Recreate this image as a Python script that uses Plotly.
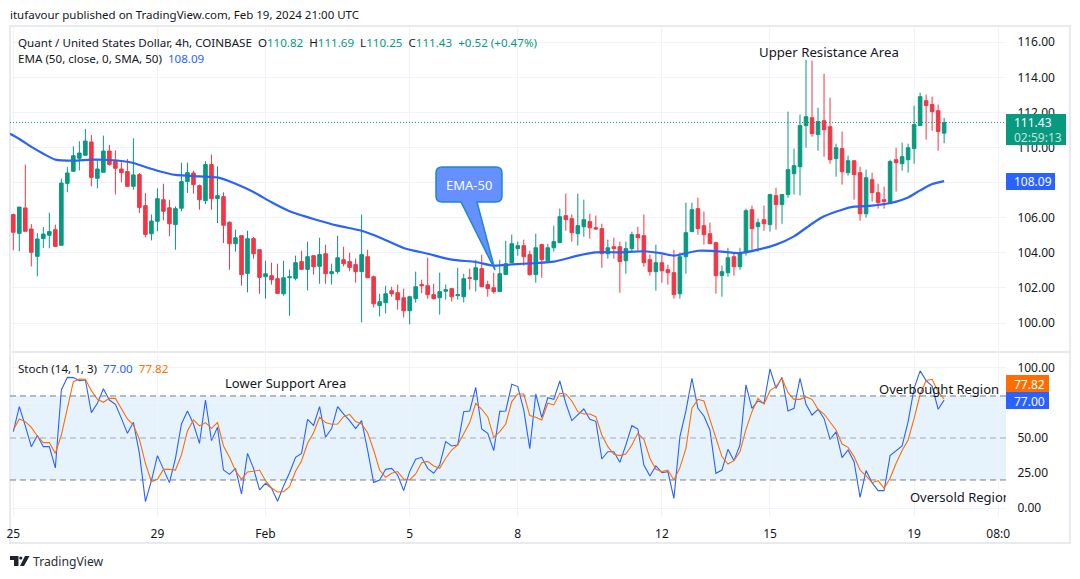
import plotly.graph_objects as go

W, H = 1080, 579
FONT = "Noto Sans"
UP, DOWN, BLUE, ORANGE = "#089981", "#F23645", "#2962FF", "#FF6D00"
TXT = "#131722"
GRID = "#F0F3FA"

opens = [106.18,105.11,106.56,105.36,103.80,104.81,105.00,105.32,104.43,107.96,108.65,109.39,109.56,110.32,108.25,108.59,109.80,109.27,108.78,108.63,
107.79,108.46,106.69,105.09,105.80,107.03,106.57,105.61,106.54,108.06,108.55,107.83,106.97,109.03,107.09,107.20,105.74,104.52,104.98,102.83,
104.81,104.18,102.64,102.70,102.53,101.67,102.58,102.55,103.50,103.06,103.84,103.23,103.95,102.81,102.93,103.61,103.50,103.33,102.93,103.78,
102.64,100.99,101.16,101.84,101.73,101.44,100.70,101.39,102.19,102.13,101.62,101.44,101.81,101.96,101.56,101.50,102.58,102.47,103.10,102.19,
102.01,101.79,102.76,103.44,104.24,104.41,103.90,102.76,104.47,103.55,104.29,104.58,106.12,105.95,105.09,105.49,105.78,105.43,105.38,103.95,
104.35,104.35,103.55,104.24,105.04,104.98,103.61,102.93,103.44,103.04,102.87,101.67,103.78,105.21,106.52,105.55,105.09,104.58,102.70,102.87,
103.78,103.21,104.01,106.46,105.49,105.89,105.61,107.26,106.75,107.32,108.51,108.91,111.25,111.70,110.74,111.53,111.19,109.37,109.94,108.57,
109.25,108.57,106.23,108.17,107.43,107.03,106.80,109.31,109.08,109.31,109.94,111.25,112.67,112.45,112.10,110.82]
highs = [106.23,106.61,109.03,105.64,105.13,105.47,106.29,105.61,108.23,108.89,110.07,110.36,111.06,110.72,109.27,110.68,110.15,109.84,109.16,109.35,
110.53,108.55,107.41,106.18,107.68,107.94,107.03,106.65,109.14,109.14,108.68,107.89,109.22,109.60,108.93,107.45,105.80,105.32,104.98,105.26,
104.90,104.18,103.55,103.44,103.38,103.55,103.04,103.84,104.12,104.64,103.84,104.86,104.47,103.38,104.98,104.35,104.01,103.67,106.18,104.18,
102.70,101.67,102.13,102.07,102.19,101.96,101.56,102.93,102.47,103.72,102.24,102.87,102.19,102.01,103.15,102.81,103.10,103.61,103.90,102.41,
102.87,103.61,104.69,105.04,104.64,104.75,104.12,105.09,104.52,104.52,105.55,106.52,107.37,106.18,107.37,107.03,106.23,106.12,105.66,104.75,
104.86,104.64,104.64,105.21,105.49,106.18,103.90,104.47,103.90,103.33,104.18,104.01,106.86,106.86,107.14,106.35,105.72,104.64,103.27,104.29,
104.01,104.29,106.52,106.69,105.95,106.69,107.37,107.71,107.32,112.05,109.94,111.88,115.01,114.95,112.27,114.21,112.84,110.22,110.91,109.54,
109.25,108.91,108.74,108.57,107.94,107.77,109.31,109.99,110.28,110.22,112.39,113.13,113.02,112.90,112.45,111.69]
lows = [104.14,104.09,105.23,103.23,102.66,104.28,104.26,104.33,104.43,107.45,108.65,108.70,109.54,107.79,107.68,108.59,108.97,107.33,108.02,107.79,
107.60,106.27,104.88,104.71,105.23,105.85,104.94,104.18,106.37,107.41,107.37,106.46,106.78,106.46,105.70,104.56,103.04,104.07,102.13,101.75,
103.67,101.67,101.39,102.19,101.67,101.56,100.42,102.43,103.04,101.86,102.76,102.24,102.24,102.19,102.81,103.23,102.95,102.30,100.04,102.58,
100.89,100.38,100.55,101.50,100.76,100.32,99.92,101.16,101.71,101.39,101.33,100.48,101.33,101.22,101.33,101.18,101.90,101.79,102.07,101.50,
101.67,101.79,102.76,103.44,103.84,103.27,102.70,102.30,102.58,103.55,104.07,104.58,105.26,104.64,104.41,104.92,104.81,105.32,103.15,103.67,
103.67,101.73,102.81,104.07,104.07,103.21,102.70,101.84,102.30,102.19,101.39,101.39,102.81,105.21,105.04,104.47,104.52,101.67,101.50,102.64,
102.70,103.04,103.84,104.18,104.07,105.26,105.21,105.32,105.66,107.14,107.32,107.26,109.99,110.62,109.82,109.48,109.08,108.34,107.89,108.40,
107.03,105.83,106.00,106.92,106.52,106.52,106.80,107.49,108.68,108.57,109.08,111.25,110.45,110.96,109.82,110.25]
closes = [105.17,106.61,105.23,104.03,104.79,105.07,105.21,104.37,107.98,108.55,109.54,109.69,110.37,108.30,108.78,109.80,109.04,108.82,108.57,107.79,
108.44,106.59,105.05,105.81,107.09,106.37,105.66,106.52,108.06,108.57,107.89,107.03,109.03,107.09,107.26,105.57,104.52,104.86,102.76,104.81,
103.95,102.60,102.81,102.47,101.69,102.58,102.64,103.44,103.06,103.78,103.21,103.90,102.81,102.93,103.72,103.38,103.17,102.93,103.90,102.58,
101.10,101.22,101.67,101.67,101.33,100.70,101.50,102.07,102.13,101.62,101.39,101.79,101.90,101.50,101.62,102.53,102.55,103.15,102.07,101.96,
101.79,102.81,103.38,104.52,104.41,103.78,102.76,104.29,103.61,104.29,104.64,106.06,105.89,105.15,105.55,105.89,105.43,105.36,103.95,104.29,
104.24,103.50,104.24,105.04,104.86,103.44,102.93,103.44,102.98,102.87,101.62,103.78,105.15,106.46,105.38,105.04,104.52,102.70,102.93,103.72,
103.21,104.01,106.40,105.38,105.72,105.66,107.32,106.75,107.32,108.74,108.97,111.25,111.76,110.79,111.48,111.02,109.31,109.99,108.63,109.25,
108.46,106.23,108.28,107.43,106.86,106.92,109.20,109.14,109.48,109.99,111.31,112.90,112.39,112.05,110.91,111.43]

ema_idx = [-0.55,1,3.3,5,7,10,13,16,20,22,24,27,31,34,37,40,43,46,50,54,58,61,65,69,73,77,80,83,87,90,94,97,101,105,108,110,114,117,121,124,127,130,133,135,138,140,143,146,149,151,153,155]
ema_val = [110.79,110.49,109.98,109.65,109.31,109.25,109.31,109.29,109.12,108.89,108.68,108.44,108.36,108.30,107.94,107.47,106.88,106.37,105.93,105.55,105.26,104.88,104.28,103.95,103.61,103.48,103.27,103.34,103.42,103.50,103.84,104.03,104.03,104.09,103.97,103.84,104.12,104.10,103.99,104.18,104.47,104.94,105.66,106.08,106.46,106.63,106.69,106.84,107.16,107.56,107.92,108.09]

stoch_k = [54.5,72.4,58.6,43.8,51.7,43.8,43.8,28.6,84.3,93.3,93.1,91.0,91.4,68.1,74.8,85.2,77.1,74.0,64.0,53.3,
61.2,39.0,4.5,19.5,37.4,27.1,18.1,35.5,60.0,69.3,60.0,46.2,77.1,48.1,57.6,27.1,24.0,28.3,10.0,39.0,
28.3,12.9,17.6,14.0,4.8,15.7,25.2,36.2,39.0,63.3,59.0,72.4,50.5,56.7,72.4,67.1,62.4,56.7,62.4,41.4,
18.3,20.0,27.6,28.3,23.6,12.4,26.0,34.8,36.2,28.3,24.8,30.7,47.4,44.3,45.0,68.8,69.3,86.2,56.4,53.3,
41.0,69.0,69.3,88.3,86.7,70.0,42.4,81.4,64.5,78.8,77.6,90.7,74.8,62.4,66.9,70.7,63.3,61.9,35.0,40.2,
40.2,32.6,45.0,58.8,56.4,30.7,22.9,30.0,25.2,26.0,6.9,51.0,69.3,92.6,71.2,65.7,55.7,24.8,27.1,41.9,
33.8,45.0,87.9,71.2,76.4,74.8,99.3,85.5,93.3,69.3,71.2,92.6,74.0,66.4,70.5,64.0,49.0,54.3,36.0,41.4,
33.1,7.6,26.7,18.1,12.4,12.4,37.4,40.7,44.3,61.7,85.5,97.9,91.0,87.1,70.5,77.0]
stoch_d = [55.7,63.6,61.7,57.6,51.4,46.7,46.7,39.0,52.1,70.0,90.2,92.1,91.9,83.8,77.6,75.5,78.3,78.3,70.5,63.6,
59.3,49.0,31.9,18.8,20.5,27.6,27.6,27.1,37.9,55.0,62.9,58.6,61.0,56.9,61.0,44.3,36.2,26.7,20.5,25.7,
26.2,27.1,19.5,14.3,11.4,11.7,15.2,26.2,33.8,46.2,53.8,64.8,61.0,59.8,60.0,65.2,66.9,61.7,60.0,53.8,
41.4,27.1,21.9,24.8,26.0,20.7,20.0,24.3,32.4,33.3,30.0,28.3,35.5,41.4,45.0,52.6,61.0,74.8,70.5,65.2,
50.5,54.5,60.0,76.0,81.4,81.4,66.0,64.8,62.9,74.8,73.6,81.9,81.4,76.4,68.8,67.1,67.1,65.2,52.1,43.8,
38.3,37.4,38.6,45.0,53.3,49.0,35.5,27.6,26.0,27.1,20.0,28.8,42.6,71.2,77.6,76.4,62.9,48.6,36.7,31.4,
33.8,40.2,56.2,68.8,78.3,74.3,83.8,86.7,92.6,82.4,77.6,77.6,79.3,77.6,70.5,67.1,61.7,55.7,45.7,43.3,
36.7,27.1,22.9,18.1,19.5,14.0,21.2,31.9,41.0,48.6,64.0,81.2,91.0,91.9,83.1,77.82]

time_ticks = [0,24,42,66,84,108,126,150,164]
time_labels = ["25","29","Feb","5","8","12","15","19","08:0"]
price_ticks = [100,102,104,106,108,110,112,114,116]
stoch_ticks = [0,25,50,75,100]

candle_x = list(range(len(closes)))

def PX(x): return x / W
def PY(y): return 1 - y / H

fig = go.Figure()
fig.add_trace(go.Candlestick(x=candle_x, open=opens, high=highs, low=lows, close=closes,
    increasing=dict(line=dict(color=UP, width=1), fillcolor=UP),
    decreasing=dict(line=dict(color=DOWN, width=1), fillcolor=DOWN),
    whiskerwidth=0, hoverinfo="skip", showlegend=False, xaxis="x", yaxis="y"))
fig.add_trace(go.Scatter(x=ema_idx, y=ema_val, mode="lines", line=dict(color=BLUE, width=2.2, shape="spline", smoothing=0.6),
    hoverinfo="skip", showlegend=False, xaxis="x", yaxis="y"))
fig.add_trace(go.Scatter(x=candle_x, y=stoch_k, mode="lines", line=dict(color=BLUE, width=1.1),
    hoverinfo="skip", showlegend=False, xaxis="x2", yaxis="y2"))
fig.add_trace(go.Scatter(x=candle_x, y=stoch_d, mode="lines", line=dict(color=ORANGE, width=1.1),
    hoverinfo="skip", showlegend=False, xaxis="x2", yaxis="y2"))
# clipped by the pane edge, as in the reference
fig.add_trace(go.Scatter(x=[149.3], y=[6.4], mode="text", text=["Oversold Region"], textposition="middle right",
    textfont=dict(family=FONT, size=13, color=TXT), cliponaxis=True, hoverinfo="skip", showlegend=False, xaxis="x2", yaxis="y2"))

xr = [-0.55, 165.3]
R = 1006
dom_x = [PX(10), PX(R)]
shapes = [
    dict(type="rect", xref="paper", yref="y2", x0=PX(10), x1=PX(R), y0=20, y1=80, fillcolor="#E3F2FD", line_width=0, layer="below", opacity=0.9),
    dict(type="line", xref="paper", yref="y2", x0=PX(10), x1=PX(R), y0=80, y1=80, line=dict(color="#787B86", width=1, dash="6px,4px")),
    dict(type="line", xref="paper", yref="y2", x0=PX(10), x1=PX(R), y0=50, y1=50, line=dict(color="#A5A8B0", width=1, dash="6px,4px")),
    dict(type="line", xref="paper", yref="y2", x0=PX(10), x1=PX(R), y0=20, y1=20, line=dict(color="#787B86", width=1, dash="6px,4px")),
    dict(type="line", xref="paper", yref="y", x0=PX(10), x1=PX(R), y0=closes[-1], y1=closes[-1], line=dict(color=UP, width=1, dash="1px,2px")),
    dict(type="rect", xref="paper", yref="paper", x0=PX(10), x1=PX(1070), y0=PY(543), y1=PY(26), line=dict(color="#E9EAF0", width=2), layer="below"),
    dict(type="line", xref="paper", yref="paper", x0=PX(10), x1=PX(1070), y0=PY(352), y1=PY(352), line=dict(color="#E9EAF0", width=2), layer="below"),
    dict(type="rect", xref="paper", yref="paper", x0=PX(1006), x1=PX(1066), y0=PY(145), y1=PY(114), fillcolor=UP, line_width=0),
    dict(type="rect", xref="paper", yref="paper", x0=PX(1006), x1=PX(1055), y0=PY(190), y1=PY(173), fillcolor=BLUE, line_width=0),
    dict(type="rect", xref="paper", yref="paper", x0=PX(1006), x1=PX(1049), y0=PY(392), y1=PY(375), fillcolor=ORANGE, line_width=0),
    dict(type="rect", xref="paper", yref="paper", x0=PX(1006), x1=PX(1049), y0=PY(409), y1=PY(392), fillcolor=BLUE, line_width=0),
]

def P(x, y): return f"{PX(x):.5f},{PY(y):.5f}"
r = 6
callout = ("M " + P(436+r,167) + " L " + P(502-r,167) + " Q " + P(502,167) + " " + P(502,167+r) +
    " L " + P(502,202-r) + " Q " + P(502,202) + " " + P(502-r,202) + " L " + P(477,202) + " L " + P(495,270) +
    " L " + P(461,202) + " L " + P(436+r,202) + " Q " + P(436,202) + " " + P(436,202-r) +
    " L " + P(436,167+r) + " Q " + P(436,167) + " " + P(436+r,167) + " Z")
shapes.append(dict(type="path", xref="paper", yref="paper", path=callout, fillcolor="#6690FF", line=dict(color="#1E88C8", width=1.5)))

# TradingView logo
LOGO = "#1E222D"
shapes.append(dict(type="path", xref="paper", yref="paper",
    path="M "+P(10,556)+" L "+P(18.5,556)+" L "+P(18.5,566)+" L "+P(14,566)+" L "+P(14,560)+" L "+P(10,560)+" Z", fillcolor=LOGO, line_width=0))
shapes.append(dict(type="path", xref="paper", yref="paper",
    path="M "+P(25,556)+" L "+P(29.5,556)+" L "+P(24,566)+" L "+P(20,566)+" Z", fillcolor=LOGO, line_width=0))
shapes.append(dict(type="circle", xref="paper", yref="paper", x0=PX(19.2), x1=PX(22.4), y0=PY(559.6), y1=PY(556.4), fillcolor=LOGO, line_width=0))

def note(x, y, text, size=12, color=TXT, anchor="left"):
    return dict(xref="paper", yref="paper", x=PX(x), y=PY(y), text=text, showarrow=False, xanchor=anchor, yanchor="middle",
                font=dict(family=FONT, size=size, color=color), align="left", borderpad=0, borderwidth=0)

def c(col, s): return f'<span style="color:{col}">{s}</span>'
nb = "\u00a0"
WHITE_SOFT = "rgba(255,255,255,0.75)"
ann = [
    note(10, 15, "itufavour published on TradingView.com, Feb 19, 2024 21:00 UTC", 11.5),
    note(18, 42, "Quant / United States Dollar, 4h, COINBASE" + nb*2 + "O" + c(UP,"110.82") + nb*2 + "H" + c(UP,"111.69") + nb*2 + "L" + c(UP,"110.25") + nb*2 + "C" + c(UP,"111.43") + nb*2 + c(UP,"+0.52 (+0.47%)"), 11.6),
    note(18, 59, "EMA (50, close, 0, SMA, 50)" + nb*2 + c(BLUE,"108.09"), 11.6),
    note(18, 368, "Stoch (14, 1, 3)" + nb*2 + c(BLUE,"77.00") + nb*2 + c(ORANGE,"77.82"), 11.6),
    note(225, 383, "Lower Support Area", 13),
    note(759, 52, "Upper Resistance Area", 13.2),
    note(879, 389, "Overbought Region", 13),
    note(469, 185, "EMA-50", 13, "#FFFFFF", "center"),
    note(1013.5, 122, "111.43", 12, "#FFFFFF"),
    note(1013.5, 137, "02:59:13", 12, WHITE_SOFT),
    note(1013.5, 181.5, "108.09", 12, "#FFFFFF"),
    note(1013.5, 384, "77.82", 12, "#FFFFFF"),
    note(1013.5, 401, "77.00", 12, "#FFFFFF"),
    note(33, 561, "TradingView", 12.2, "#2A2E39"),
]

fig.update_layout(
    width=W, height=H, margin=dict(l=0, r=0, t=0, b=0, autoexpand=False), paper_bgcolor="#FFFFFF", plot_bgcolor="#FFFFFF",
    boxgap=0.15, showlegend=False, hovermode=False, shapes=shapes, annotations=ann,
    font=dict(family=FONT, size=12, color=TXT),
    xaxis=dict(domain=dom_x, range=xr, anchor="y", tickmode="array", tickvals=time_ticks, showticklabels=False,
               showgrid=True, gridcolor=GRID, gridwidth=1, zeroline=False, rangeslider=dict(visible=False), ticks=""),
    xaxis2=dict(domain=dom_x, range=xr, anchor="y2", matches="x", tickmode="array", tickvals=time_ticks, ticktext=time_labels,
                showgrid=True, gridcolor=GRID, gridwidth=1, zeroline=False, ticks="outside", ticklen=6, tickcolor="rgba(0,0,0,0)",
                tickfont=dict(family=FONT, size=12, color=TXT)),
    yaxis=dict(domain=[PY(352), PY(27)], range=[98.35, 116.87], side="right", anchor="x", tickmode="array", tickvals=price_ticks,
               tickformat=".2f", showgrid=True, gridcolor=GRID, zeroline=False, ticks="outside", ticklen=8, tickcolor="rgba(0,0,0,0)",
               tickfont=dict(family=FONT, size=12, color=TXT)),
    yaxis2=dict(domain=[PY(517), PY(352)], range=[-6.43, 111.4], side="right", anchor="x2", tickmode="array", tickvals=stoch_ticks,
                tickformat=".2f", showgrid=True, gridcolor=GRID, zeroline=False, ticks="outside", ticklen=8, tickcolor="rgba(0,0,0,0)",
                tickfont=dict(family=FONT, size=12, color=TXT)),
)
fig.write_html("out.html", config=dict(displayModeBar=False), post_script="document.body.style.margin='0';")
